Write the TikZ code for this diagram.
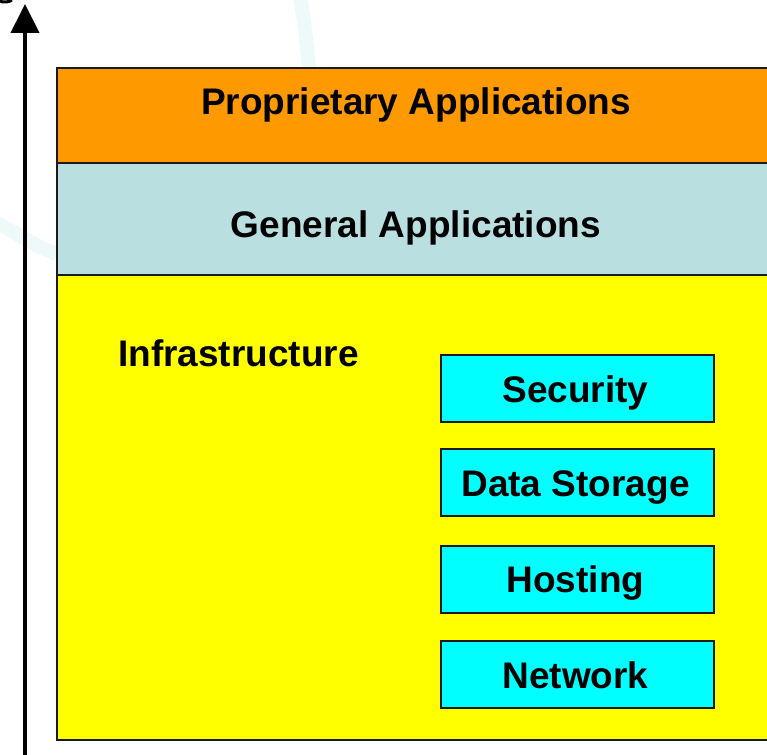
\documentclass[tikz,border=0pt]{standalone}
\usepackage{fontspec}
\setmainfont{Liberation Sans}
\usetikzlibrary{arrows.meta}
\definecolor{orangeband}{HTML}{FF9900}
\definecolor{blueband}{HTML}{B9DFE1}
\definecolor{yellowband}{HTML}{FFFF00}
\definecolor{cyanbox}{HTML}{00FFFF}
\definecolor{edge}{HTML}{1A1A1A}
\definecolor{wmark}{HTML}{EEF9FA}
\tikzset{
  lbl/.style={font=\fontsize{37}{40}\selectfont\bfseries, text=black, inner sep=0pt, anchor=base},
  subbox/.style={draw=edge, line width=2pt, fill=cyanbox},
  band/.style={draw=edge, line width=2pt},
}
\begin{document}
\begin{tikzpicture}[x=1pt,y=-1pt]
\useasboundingbox (0,0) rectangle (767,754);
% faint watermark
\draw[wmark, line width=14pt, line cap=round] (300,-5) .. controls (304,20) and (307,45) .. (309,70);
\draw[wmark, line width=14pt] (-5,222) .. controls (15,232) and (35,246) .. (57,254);
% fragment at top-left corner
\draw[black, line width=3pt] (0,1) .. controls (4,3) and (9,2) .. (12,0);
% bands
\fill[orangeband] (57,68) rectangle (770,163);
\fill[blueband] (57,163) rectangle (770,275);
\fill[yellowband] (57,275) rectangle (770,740);
\draw[band] (770,68) -- (57,68) -- (57,740) -- (770,740);
\draw[band] (57,163) -- (770,163);
\draw[band] (57,275) -- (770,275);
% axis arrow
\coordinate (abot) at (25,760);
\coordinate (atop) at (25,4);
\draw[line width=4pt, -{Triangle[width=28pt,length=29pt]}] (abot) -- (atop);
% labels
\node[lbl] (prop) at (416,115) {Proprietary Applications};
\node[lbl] (gen) at (416,237) {General Applications};
\node[lbl, anchor=base west] (infra) at (118,366) {Infrastructure};
% sub boxes
\node[subbox, minimum width=273pt, minimum height=67pt, inner sep=0pt] (sec) at (577.5,388.5) {};
\node[subbox, minimum width=273pt, minimum height=67pt, inner sep=0pt] (data) at (577.5,482.5) {};
\node[subbox, minimum width=273pt, minimum height=67pt, inner sep=0pt] (host) at (577.5,579) {};
\node[subbox, minimum width=273pt, minimum height=67pt, inner sep=0pt] (net) at (577.5,674.5) {};
\node[lbl] (sect) at (575.5,402) {Security};
\node[lbl] (datat) at (575.5,496) {Data Storage};
\node[lbl] (hostt) at (575.5,592.5) {Hosting};
\node[lbl] (nett) at (575.5,688) {Network};
\end{tikzpicture}
\end{document}
